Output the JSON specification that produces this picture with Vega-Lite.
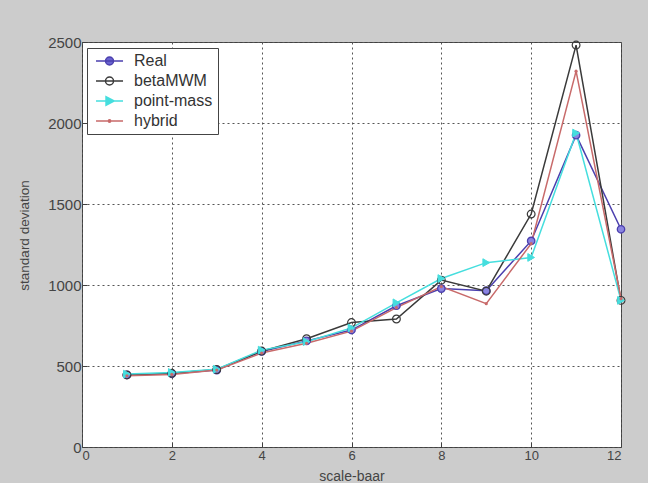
{
  "$schema": "https://vega.github.io/schema/vega-lite/v6.json",
  "width": 539,
  "height": 405,
  "autosize": {"type": "none"},
  "padding": {"left": 82, "top": 42, "right": 27, "bottom": 36},
  "background": "#cccccc",
  "config": {
    "font": "Liberation Sans",
    "view": {"fill": "white", "stroke": "#404040", "strokeWidth": 1},
    "axis": {
      "grid": true,
      "gridDash": [2, 3],
      "gridColor": "#555555",
      "gridOpacity": 1,
      "gridWidth": 1,
      "domain": false,
      "tickSize": -5,
      "tickColor": "#404040",
      "labelFont": "Liberation Sans",
      "labelFontSize": 13,
      "labelColor": "#444444",
      "titleFont": "Liberation Sans",
      "titleFontSize": 14,
      "titleFontWeight": "normal",
      "titleColor": "#444444"
    }
  },
  "data": {
    "values": [
      {"series": "Real", "scale": 1, "sd": 445},
      {"series": "Real", "scale": 2, "sd": 452},
      {"series": "Real", "scale": 3, "sd": 475},
      {"series": "Real", "scale": 4, "sd": 590},
      {"series": "Real", "scale": 5, "sd": 655},
      {"series": "Real", "scale": 6, "sd": 722},
      {"series": "Real", "scale": 7, "sd": 872},
      {"series": "Real", "scale": 8, "sd": 978},
      {"series": "Real", "scale": 9, "sd": 965},
      {"series": "Real", "scale": 10, "sd": 1272},
      {"series": "Real", "scale": 11, "sd": 1925},
      {"series": "Real", "scale": 12, "sd": 1344},
      {"series": "betaMWM", "scale": 1, "sd": 445},
      {"series": "betaMWM", "scale": 2, "sd": 455},
      {"series": "betaMWM", "scale": 3, "sd": 478},
      {"series": "betaMWM", "scale": 4, "sd": 592},
      {"series": "betaMWM", "scale": 5, "sd": 668},
      {"series": "betaMWM", "scale": 6, "sd": 768},
      {"series": "betaMWM", "scale": 7, "sd": 790},
      {"series": "betaMWM", "scale": 8, "sd": 1030},
      {"series": "betaMWM", "scale": 9, "sd": 962},
      {"series": "betaMWM", "scale": 10, "sd": 1438},
      {"series": "betaMWM", "scale": 11, "sd": 2481},
      {"series": "betaMWM", "scale": 12, "sd": 905},
      {"series": "point-mass", "scale": 1, "sd": 450},
      {"series": "point-mass", "scale": 2, "sd": 460},
      {"series": "point-mass", "scale": 3, "sd": 480},
      {"series": "point-mass", "scale": 4, "sd": 598},
      {"series": "point-mass", "scale": 5, "sd": 650},
      {"series": "point-mass", "scale": 6, "sd": 735},
      {"series": "point-mass", "scale": 7, "sd": 890},
      {"series": "point-mass", "scale": 8, "sd": 1040},
      {"series": "point-mass", "scale": 9, "sd": 1138},
      {"series": "point-mass", "scale": 10, "sd": 1170},
      {"series": "point-mass", "scale": 11, "sd": 1938},
      {"series": "point-mass", "scale": 12, "sd": 905},
      {"series": "hybrid", "scale": 1, "sd": 440},
      {"series": "hybrid", "scale": 2, "sd": 448},
      {"series": "hybrid", "scale": 3, "sd": 475},
      {"series": "hybrid", "scale": 4, "sd": 580},
      {"series": "hybrid", "scale": 5, "sd": 640},
      {"series": "hybrid", "scale": 6, "sd": 715},
      {"series": "hybrid", "scale": 7, "sd": 860},
      {"series": "hybrid", "scale": 8, "sd": 990},
      {"series": "hybrid", "scale": 9, "sd": 885},
      {"series": "hybrid", "scale": 10, "sd": 1255},
      {"series": "hybrid", "scale": 11, "sd": 2320},
      {"series": "hybrid", "scale": 12, "sd": 915}
    ]
  },
  "encoding": {
    "x": {
      "field": "scale",
      "type": "quantitative",
      "scale": {"domain": [0, 12], "nice": false, "zero": false},
      "axis": {"values": [0, 2, 4, 6, 8, 10, 12], "format": "d", "title": "scale-baar", "labelPadding": 7, "titlePadding": 7}
    },
    "y": {
      "field": "sd",
      "type": "quantitative",
      "scale": {"domain": [0, 2500], "nice": false},
      "axis": {"values": [0, 500, 1000, 1500, 2000, 2500], "format": "d", "labelFontSize": 15, "title": "standard deviation", "titleFontSize": 13.5, "labelPadding": 6, "titlePadding": 16, "titleY": 193}
    }
  },
  "layer": [
    {
      "mark": {"type": "line", "strokeWidth": 1.5},
      "encoding": {
        "color": {
          "field": "series",
          "type": "nominal",
          "sort": ["Real", "betaMWM", "point-mass", "hybrid"],
          "scale": {
            "domain": ["Real", "betaMWM", "point-mass", "hybrid"],
            "range": ["#4b3fae", "#3a3a3a", "#45dede", "#c86a6a"]
          },
          "legend": {
            "title": null,
            "orient": "none",
            "legendX": 5,
            "legendY": 6,
            "direction": "vertical",
            "fillColor": "white",
            "strokeColor": "#444444",
            "padding": 5,
            "cornerRadius": 0,
            "labelFont": "Liberation Sans",
            "labelFontSize": 16,
            "labelColor": "#333333",
            "labelOffset": 26,
            "symbolSize": 196,
            "symbolStrokeWidth": 1.5,
            "rowPadding": 4,
            "encode": {
              "symbols": {
                "update": {
                  "shape": {"signal": "datum.value === 'point-mass' ? 'M-0.57,0H3.29M2.02,0L0.86,-0.6L0.86,0.6Z' : datum.value === 'hybrid' ? 'M-0.57,0H3.29M1.53,0A0.17,0.17 0 1,1 1.19,0A0.17,0.17 0 1,1 1.53,0' : 'M-0.57,0H3.29M1.93,0A0.57,0.57 0 1,1 0.79,0A0.57,0.57 0 1,1 1.93,0'"},
                  "fill": {"signal": "datum.value === 'Real' ? '#6a64d0' : datum.value === 'point-mass' ? '#45dede' : datum.value === 'hybrid' ? '#c86a6a' : 'transparent'"}
                }
              }
            }
          }
        }
      }
    },
    {
      "transform": [{"filter": "datum.series === 'Real'"}],
      "mark": {"type": "point", "shape": "circle", "size": 55, "filled": true, "fill": "#8a84e0", "stroke": "#4b3fae", "strokeWidth": 1.3, "opacity": 1}
    },
    {
      "transform": [{"filter": "datum.series === 'betaMWM'"}],
      "mark": {"type": "point", "shape": "circle", "size": 60, "filled": false, "stroke": "#3a3a3a", "strokeWidth": 1.2, "opacity": 1}
    },
    {
      "transform": [{"filter": "datum.series === 'point-mass'"}],
      "mark": {"type": "point", "shape": "triangle-right", "size": 60, "filled": true, "fill": "#45dede", "stroke": "#45dede", "strokeWidth": 1, "opacity": 1}
    },
    {
      "transform": [{"filter": "datum.series === 'hybrid'"}],
      "mark": {"type": "point", "shape": "circle", "size": 10, "filled": true, "fill": "#c86a6a", "opacity": 1}
    }
  ]
}
